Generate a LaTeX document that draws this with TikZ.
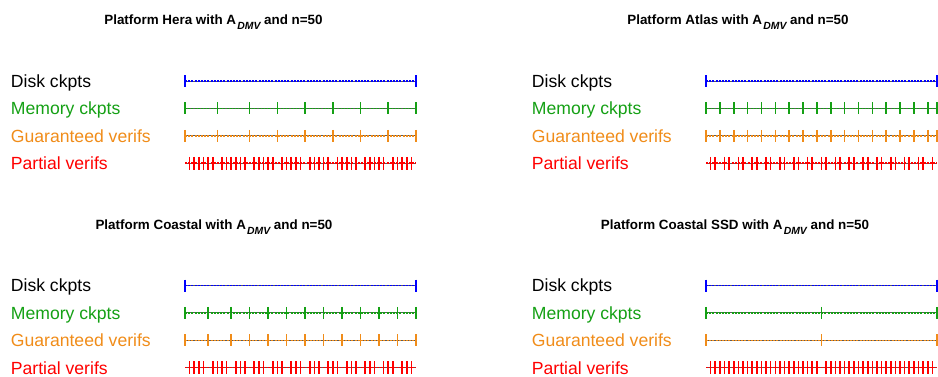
\documentclass[tikz,border=0pt]{standalone}
\usepackage{fontspec}
\setmainfont{Liberation Sans}
\usetikzlibrary{positioning,calc}
\definecolor{diskblue}{RGB}{0,0,255}
\definecolor{memgreen}{RGB}{20,160,20}
\definecolor{verifor}{RGB}{240,140,25}
\definecolor{partred}{RGB}{255,0,0}

\begin{document}
\begin{tikzpicture}
[x=0.5pt, y=-0.5pt,
lbl/.style = {anchor=base west, inner sep=0pt, font=\fontsize{8.8}{10}\selectfont},
plat/.style = {inner sep=0pt, font=\fontsize{6.7}{8}\selectfont\bfseries},
baseline/.style = {black!65, line width=0.5pt},
dashline/.style = {line width=0.75pt, dash pattern=on 1pt off 0.6pt},
tick/.style = {line width=0.8pt}]
\useasboundingbox (0,0) rectangle (938,376);

% one panel per platform: key/title x/title y/label x/line x/line y/name/checkpoints
\foreach \pn/\tx/\ty/\lx/\sx/\ly/\ttl/\ck in {
  Hera/213.5/22/10.5/185/81/Hera/{0,7,14,20,26,32,38,44,50},
  Atlas/738/22/531.5/706/81/Atlas/{0,3,6,9,12,15,18,21,24,27,30,33,36,39,42,45,48,50},
  Coastal/214/227/10.5/185/285.5/Coastal/{0,5,10,14,18,22,26,30,34,38,42,46,50},
  SSD/735/227/531.5/706/285.5/Coastal SSD/{0,25,50}}{

\node[plat] (\pn-title) at (\tx,\ty)
  {Platform \ttl{} with A\kern0.6pt\raisebox{-2.6pt}{\fontsize{5.2}{6}\selectfont\bfseries\itshape DMV} and n=50};

\node[lbl, black] (\pn-disk) at (\lx,\ly+6.3) {Disk ckpts};
\node[lbl, memgreen] (\pn-mem) at (\lx,\ly+33.7) {Memory ckpts};
\node[lbl, verifor] (\pn-gv) at (\lx,\ly+61.1) {Guaranteed verifs};
\node[lbl, partred] (\pn-pv) at (\lx,\ly+88.5) {Partial verifs};

\coordinate (\pn-d0) at (\sx,\ly);
\coordinate (\pn-d1) at (\sx+231,\ly);
\coordinate (\pn-m0) at (\sx,\ly+27.4);
\coordinate (\pn-m1) at (\sx+231,\ly+27.4);
\coordinate (\pn-g0) at (\sx,\ly+54.8);
\coordinate (\pn-g1) at (\sx+231,\ly+54.8);
\coordinate (\pn-p0) at (\sx,\ly+82.2);
\coordinate (\pn-p1) at (\sx+231,\ly+82.2);

\draw[baseline] (\pn-d0) -- (\pn-d1);
\draw[dashline, diskblue] (\pn-d0) -- (\pn-d1);
\draw[baseline] (\pn-m0) -- (\pn-m1);
\draw[dashline, memgreen] (\pn-m0) -- (\pn-m1);
\draw[baseline] (\pn-g0) -- (\pn-g1);
\draw[dashline, verifor] (\pn-g0) -- (\pn-g1);
\draw[baseline] (\pn-p0) -- (\pn-p1);
\draw[dashline, partred] (\pn-p0) -- (\pn-p1);

\draw[tick, diskblue] (\pn-d0) +(0,-6) -- +(0,6);
\draw[tick, diskblue] (\pn-d1) +(0,-6) -- +(0,6);

\foreach \cp in \ck {
  \draw[tick, memgreen] ($(\pn-m0)!\cp/50!(\pn-m1)$) +(0,-6) -- +(0,6);
  \draw[tick, verifor] ($(\pn-g0)!\cp/50!(\pn-g1)$) +(0,-6) -- +(0,6);
}

% partial verifs on every task boundary that is no checkpoint
\foreach \tk in {1,...,49}{
  \gdef\hit{0}
  \foreach \cp in \ck {\ifnum\cp=\tk\relax\gdef\hit{1}\fi}
  \ifnum\hit=0\relax
    \draw[tick, partred] ($(\pn-p0)!\tk/50!(\pn-p1)$) +(0,-6.3) -- +(0,6.3);
  \fi
}
}

\end{tikzpicture}
\end{document}
